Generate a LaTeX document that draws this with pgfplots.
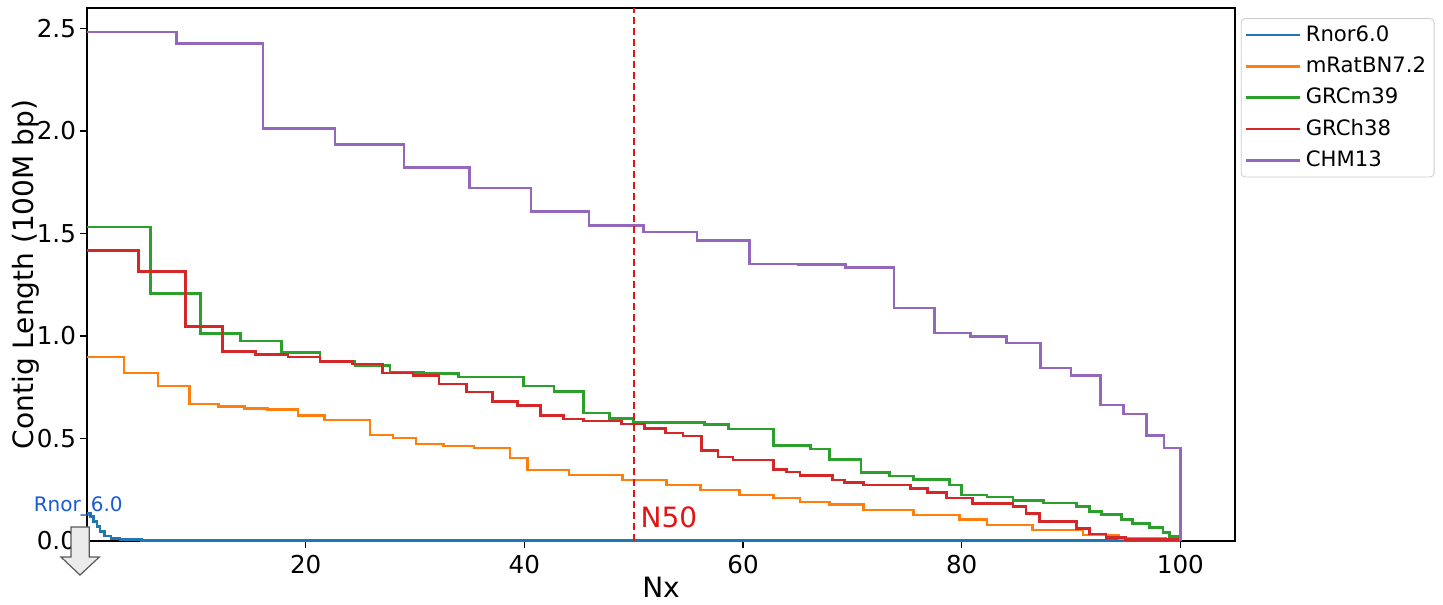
\documentclass[border=0pt]{standalone}
\usepackage{fontspec}
\setmainfont{DejaVu Sans}
\usepackage{pgfplots}
\pgfplotsset{compat=1.18}
\definecolor{c0}{HTML}{1F77B4}
\definecolor{c1}{HTML}{FF7F0E}
\definecolor{c2}{HTML}{2CA02C}
\definecolor{c3}{HTML}{D62728}
\definecolor{c4}{HTML}{9467BD}
\definecolor{annblue}{RGB}{25,90,215}
\definecolor{n50red}{RGB}{228,20,20}
\begin{document}
\begin{tikzpicture}[x=1pt,y=1pt]
\path (-43.5,-31) rectangle (678,270.5);
\begin{axis}[
  at={(0,0)}, anchor=south west,
  scale only axis, width=574pt, height=266.5pt,
  xmin=0, xmax=105, ymin=0, ymax=2.6,
  xtick={20,40,60,80,100},
  ytick={0,0.5,1,1.5,2,2.5},
  yticklabel style={xshift=1.5pt, /pgf/number format/.cd, fixed, fixed zerofill, precision=1},
  /pgf/number format/assume math mode=true,
  tick align=outside, xtick pos=bottom, ytick pos=left,
  major tick length=3.5pt,
  tick style={black, line width=0.6pt},
  axis line style={black, line width=0.6pt},
  ticklabel style={font=\fontsize{12.3}{14}\selectfont},
  label style={font=\fontsize{14}{16}\selectfont},
  xlabel={Nx}, ylabel={Contig Length (100M bp)},
  xlabel style={yshift=5pt},
  ylabel style={yshift=-8pt},
  clip=false,
  legend cell align=left,
  legend style={at={(1.005,0.981)}, anchor=north west,
    font=\fontsize{10.6}{12.5}\selectfont, draw=black!20, rounded corners=2pt,
    inner xsep=2pt, inner ysep=1.5pt, row sep=2.3pt},
  legend image code/.code={\draw[#1] (0pt,0pt) -- (21pt,0pt); \path (21pt,0pt) -- (27pt,0pt);},
  every axis plot/.append style={line width=1.3pt},
]
% Rnor6.0
\addplot[c0, const plot] coordinates {
(0,0.137) (0.3,0.12) (0.6,0.095) (0.9,0.07) (1.2,0.045) (1.6,0.025) (2.2,0.012) (3.0,0.006) (5,0.003) (100,0.002)};
\addlegendentry{Rnor6.0}
% mRatBN7.2
\addplot[c1, const plot] coordinates {
(0,0.897) (3.4,0.819) (6.5,0.757) (9.4,0.669) (12.0,0.656) (14.4,0.646) (16.5,0.640) (19.3,0.611) (21.7,0.591) (25.9,0.518) (28.0,0.502) (30.1,0.474) (32.6,0.464) (35.4,0.453) (38.7,0.404) (40.3,0.347) (44.1,0.322) (49.0,0.298) (53.0,0.274) (56.1,0.249) (59.7,0.225) (62.8,0.209) (65.2,0.19) (67.9,0.178) (71.0,0.151) (75.6,0.127) (79.8,0.106) (82.3,0.078) (86.5,0.054) (91.1,0.029) (94.4,0.013) (98.7,0.004) (100,0)};
\addlegendentry{mRatBN7.2}
% GRCm39
\addplot[c2, const plot] coordinates {
(0,1.531) (5.8,1.207) (10.4,1.013) (14.05,0.975) (17.8,0.920) (21.3,0.876) (24.5,0.856) (27.7,0.822) (30.8,0.816) (34.0,0.800) (39.9,0.757) (42.7,0.730) (45.4,0.624) (47.8,0.598) (50.0,0.578) (56.5,0.567) (58.7,0.547) (62.8,0.466) (66.2,0.449) (67.9,0.399) (70.8,0.334) (73.4,0.318) (75.6,0.301) (78.9,0.274) (80.0,0.225) (82.3,0.215) (84.7,0.197) (87.5,0.185) (90.5,0.168) (91.7,0.143) (92.8,0.130) (94.6,0.106) (95.6,0.086) (97.2,0.065) (98.4,0.041) (99.0,0.021) (99.9,0.005) (100,0)};
\addlegendentry{GRCm39}
% GRCh38
\addplot[c3, const plot] coordinates {
(0,1.417) (4.7,1.314) (9.0,1.047) (12.4,0.925) (15.4,0.909) (18.4,0.897) (21.3,0.876) (24.3,0.864) (27.0,0.819) (29.8,0.806) (32.2,0.765) (34.7,0.726) (37.1,0.680) (39.4,0.661) (41.5,0.611) (43.6,0.596) (45.4,0.586) (48.9,0.570) (51.0,0.550) (52.9,0.526) (54.5,0.513) (56.2,0.441) (57.7,0.409) (59.1,0.396) (62.8,0.350) (64.0,0.336) (65.2,0.320) (68.2,0.298) (69.3,0.285) (71.0,0.274) (75.3,0.257) (76.9,0.236) (78.6,0.209) (81.0,0.184) (84.7,0.168) (85.9,0.135) (87.1,0.094) (90.5,0.062) (91.7,0.034) (93.2,0.018) (95.0,0.008) (100,0)};
\addlegendentry{GRCh38}
% CHM13
\addplot[c4, const plot] coordinates {
(0,2.483) (8.2,2.428) (16.1,2.013) (22.7,1.935) (29.0,1.821) (35.0,1.721) (40.6,1.607) (45.9,1.540) (50.9,1.508) (55.8,1.467) (60.6,1.352) (65.1,1.348) (69.4,1.335) (73.8,1.137) (77.5,1.015) (80.8,0.998) (84.1,0.966) (87.2,0.844) (90.0,0.808) (92.7,0.664) (94.8,0.619) (96.9,0.516) (98.5,0.453) (100,0)};
\addlegendentry{CHM13}
% N50 line
\addplot[n50red, line width=1pt, dash pattern=on 3.5pt off 2pt, forget plot] coordinates {(50,0) (50,2.6)};
\node[anchor=west, inner sep=0pt, text=n50red, font=\fontsize{14}{17}\selectfont] at (axis cs:50.6,0.117) {N50};
\node[inner sep=0pt, text=annblue, font=\fontsize{10}{12}\selectfont] at (axis cs:-0.8,0.17) {Rnor\_6.0};
\draw[fill=black!8, draw=black!65, line width=0.6pt]
  (axis cs:-1.463,0.0684) -- (axis cs:0.21,0.0684) -- (axis cs:0.21,-0.0782) -- (axis cs:1.125,-0.0782)
  -- (axis cs:-0.64,-0.166) -- (axis cs:-2.378,-0.0782) -- (axis cs:-1.463,-0.0782) -- cycle;
\end{axis}
\end{tikzpicture}
\end{document}
